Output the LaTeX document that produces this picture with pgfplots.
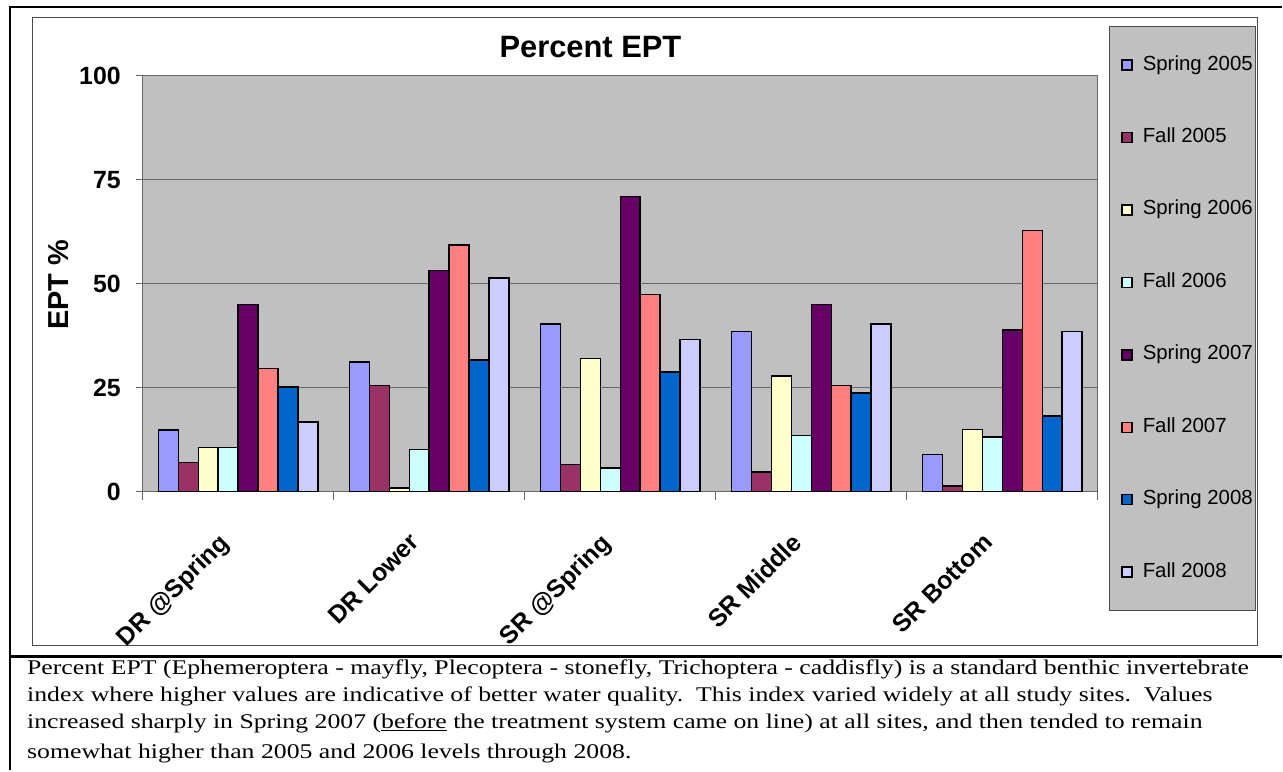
\documentclass[border=0pt]{standalone}
\usepackage{pgfplots}
\pgfplotsset{compat=1.18}
\usepackage{graphicx}
\usepackage{fontspec}
\setmainfont{Liberation Sans}
\newfontfamily\capfont{Liberation Serif}
\definecolor{c1}{HTML}{9999FF}
\definecolor{c2}{HTML}{993366}
\definecolor{c3}{HTML}{FFFFCC}
\definecolor{c4}{HTML}{CCFFFF}
\definecolor{c5}{HTML}{660066}
\definecolor{c6}{HTML}{FF8080}
\definecolor{c7}{HTML}{0066CC}
\definecolor{c8}{HTML}{CCCCFF}
\definecolor{plotbg}{HTML}{C0C0C0}
\newlength\capw
\newcommand\capsize{\capfont\fontsize{21}{26}\selectfont}
\begin{document}
\settowidth\capw{\capsize Percent EPT (Ephemeroptera - mayfly, Plecoptera - stonefly, Trichoptera - caddisfly) is a standard benthic invertebrate}%
\pgfmathsetmacro\capsx{1227.6/\capw}%
\begin{tikzpicture}[x=1bp,y=1bp]
\path (0,0) rectangle (1283,771);
% outer frame
\draw[line width=2.5bp] (10,0) -- (10,764) -- (1283,764);
\draw[line width=2.5bp] (10,114) -- (1283,114);
% chart frame
\draw[line width=1bp, black!70] (33,125) rectangle (1259,753);
% legend box
\draw[fill=plotbg, draw=black!70, line width=1bp] (1111,160) rectangle (1257,744);
% title and y label
\node[font=\bfseries\fontsize{31}{36}\selectfont, inner sep=0pt] at (591,724) {Percent EPT};
\node[rotate=90, font=\bfseries\fontsize{29}{34}\selectfont, inner sep=0pt] at (59,486) {EPT \%};

\begin{axis}[
  at={(143bp,279bp)}, anchor=south west,
  scale only axis, width=956bp, height=416bp,
  xmin=-0.5, xmax=4.5, ymin=0, ymax=100,
  axis background/.style={fill=plotbg},
  axis line style={draw=black!60, line width=1bp},
  ybar=0pt, bar width=20bp,
  every axis plot/.append style={draw=black, line width=1.8bp},
  ytick={0,25,50,75,100},
  ymajorgrids, major grid style={draw=black!60, line width=1bp},
  tick align=outside, tick pos=left,
  major tick length=7bp,
  y tick style={draw=black!60, line width=1bp},
  xtick={0,1,2,3,4},
  xticklabels={DR @Spring, DR Lower, SR @Spring, SR Middle, SR Bottom},
  x tick style={draw=none},
  extra x ticks={-0.5,0.5,1.5,2.5,3.5,4.5},
  extra x tick labels={},
  extra x tick style={x tick style={draw=black!60, line width=1bp}, major tick length=8bp},
  /pgf/number format/assume math mode=true,
  ticklabel style={font=\bfseries\fontsize{25}{30}\selectfont},
  yticklabel style={inner sep=0pt, xshift=-15bp},
  xticklabel style={inner sep=0pt, xshift=-21bp, yshift=-33bp, rotate=45, anchor=north east},
  legend cell align=left,
  legend style={at={(1.02406,1.04808)}, anchor=north west, draw=none, fill=none, inner sep=0pt, row sep=54.5bp, font=\fontsize{20.5}{24}\selectfont, nodes={inner sep=0pt, text height=14bp, text depth=4bp}},
  legend image code/.code={\draw[#1, line width=1.5bp] (0bp,-5bp) rectangle (10bp,5bp); \path (20bp,0bp);},
]
\addplot[fill=c1] coordinates {(0,14.8) (1,31.1) (2,40.4) (3,38.5) (4,8.9)};
\addlegendentry{Spring 2005}
\addplot[fill=c2] coordinates {(0,7.0) (1,25.5) (2,6.5) (3,4.6) (4,1.4)};
\addlegendentry{Fall 2005}
\addplot[fill=c3] coordinates {(0,10.6) (1,0.9) (2,32.0) (3,27.8) (4,14.9)};
\addlegendentry{Spring 2006}
\addplot[fill=c4] coordinates {(0,10.6) (1,10.1) (2,5.6) (3,13.5) (4,13.1)};
\addlegendentry{Fall 2006}
\addplot[fill=c5] coordinates {(0,45.0) (1,53.2) (2,71.0) (3,45.0) (4,38.9)};
\addlegendentry{Spring 2007}
\addplot[fill=c6] coordinates {(0,29.6) (1,59.3) (2,47.4) (3,25.5) (4,62.8)};
\addlegendentry{Fall 2007}
\addplot[fill=c7] coordinates {(0,25.1) (1,31.6) (2,28.8) (3,23.7) (4,18.2)};
\addlegendentry{Spring 2008}
\addplot[fill=c8] coordinates {(0,16.7) (1,51.4) (2,36.6) (3,40.4) (4,38.5)};
\addlegendentry{Fall 2008}
\end{axis}

% caption
\node[anchor=base west, inner sep=0pt] at (27,96) {\scalebox{\capsx}[1]{\capsize Percent EPT (Ephemeroptera - mayfly, Plecoptera - stonefly, Trichoptera - caddisfly) is a standard benthic invertebrate}};
\node[anchor=base west, inner sep=0pt] at (27,69) {\scalebox{\capsx}[1]{\capsize index where higher values are indicative of better water quality.\ \ This index varied widely at all study sites.\ \ Values}};
\node[anchor=base west, inner sep=0pt] at (27,42) {\scalebox{\capsx}[1]{\capsize increased sharply in Spring 2007 (\underline{before} the treatment system came on line) at all sites, and then tended to remain}};
\node[anchor=base west, inner sep=0pt] at (27,12) {\scalebox{\capsx}[1]{\capsize somewhat higher than 2005 and 2006 levels through 2008.}};
\end{tikzpicture}
\end{document}
